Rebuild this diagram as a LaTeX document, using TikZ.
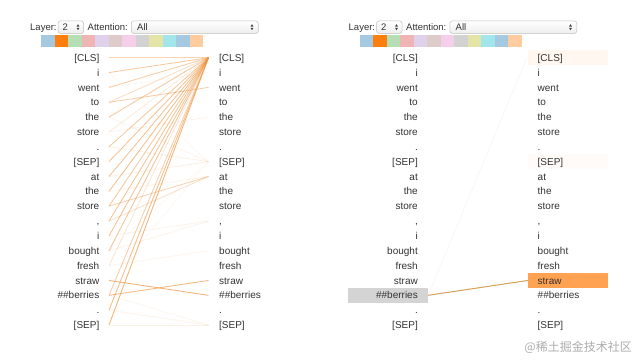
\documentclass[tikz,border=0pt]{standalone}
\usepackage{fontspec}
\setmainfont{Liberation Sans}
\newfontfamily\cjkfont{Noto Sans CJK SC}
\definecolor{hOrange}{HTML}{FF7F0E}
\definecolor{attLine}{HTML}{EE9440}
\definecolor{cBlue}{HTML}{1F77B4}
\definecolor{cGreen}{HTML}{2CA02C}
\definecolor{cRed}{HTML}{D62728}
\definecolor{cPurple}{HTML}{9467BD}
\definecolor{cBrown}{HTML}{8C564B}
\definecolor{cPink}{HTML}{E377C2}
\definecolor{cGray}{HTML}{7F7F7F}
\definecolor{cOlive}{HTML}{BCBD22}
\definecolor{cCyan}{HTML}{17BECF}
\definecolor{lineTan}{HTML}{D4A05A}
\definecolor{tokText}{HTML}{333333}
\begin{document}
\begin{tikzpicture}[x=1pt,y=-1pt,
  tok/.style={font=\fontsize{10}{12}\selectfont, text=tokText, inner sep=0pt, text height=7.2pt, text depth=0pt},
  ltok/.style={tok, anchor=east},
  rtok/.style={tok, anchor=west},
  ctrl/.style={font=\fontsize{9.5}{11}\selectfont, inner sep=0pt, anchor=west, text=tokText, text height=6.9pt, text depth=0pt},
  selbox/.style={draw=black!25, rounded corners=2.5pt, top color=white, bottom color=black!7, line width=0.5pt, minimum height=12.5pt, anchor=west, inner sep=0pt},
  hlbox/.style={inner sep=0pt, minimum width=80pt, minimum height=14.85pt},
  att/.style={attLine, line width=0.85pt},
  updown/.pic={
    \fill[black!75] (-1.4,-0.7) -- (1.4,-0.7) -- (0,-3) -- cycle;
    \fill[black!75] (-1.4,0.7) -- (1.4,0.7) -- (0,3) -- cycle;
  }]
\useasboundingbox (0,0) rectangle (640,360);
\fill[white] (0,0) rectangle (640,360);

% highlight boxes of the second panel (behind the text)
\node[hlbox, fill=black!17] (gbox) at (388,295.3) {};
\node[hlbox, fill=hOrange, fill opacity=0.72] (obox) at (568,280.45) {};
\node[hlbox, fill=hOrange, fill opacity=0.06] (cbox) at (568,57.7) {};
\node[hlbox, fill=hOrange, fill opacity=0.025] (sbox) at (568,161.65) {};

\foreach \px/\pn in {0/a,318.5/b} {
  \begin{scope}[xshift=\px pt]
    \node[ctrl] (layer\pn) at (30,27.2) {Layer:};
    \node[selbox, minimum width=25.5pt] (lsel\pn) at (57.8,27.2) {};
    \node[ctrl] (lval\pn) at (62.5,27.2) {2};
    \pic at (78,27.2) {updown};
    \node[ctrl] (att\pn) at (87.5,27.2) {Attention:};
    \node[selbox, minimum width=127pt] (asel\pn) at (131,27.2) {};
    \node[ctrl] (aval\pn) at (137,27.2) {All};
    \pic at (252,27.2) {updown};
    \foreach \k/\c in {0/cBlue!40,1/hOrange,2/cGreen!35,3/cRed!35,4/cPurple!30,5/cBrown!30,6/cPink!35,7/cGray!35,8/cOlive!40,9/cCyan!40,10/cBlue!40,11/hOrange!40} {
      \fill[\c] (41+13.5*\k,35) rectangle ++(13.5,12);
    }
    \foreach \i/\t in {0/[CLS],1/i,2/went,3/to,4/the,5/store,6/.,7/[SEP],8/at,9/the,10/store,11/{,},12/i,13/bought,14/fresh,15/straw,16/\#\#berries,17/.,18/[SEP]} {
      \pgfmathsetmacro\yy{57.7+14.85*\i}
      \node[ltok] (L\pn\i) at (99.5,\yy) {\t};
      \node[rtok] (R\pn\i) at (219,\yy) {\t};
      \coordinate (A\pn\i) at (109,\yy);
      \coordinate (B\pn\i) at (208.5,\yy);
    }
  \end{scope}
}

% attention lines, panel 1
\foreach \s/\d/\o in {5/4/.1,6/7/.12,8/7/.12,4/7/.1,12/11/.1,13/11/.1,14/13/.08,17/18/.1,18/18/.12,2/1/.08,9/8/.1,13/7/.06,15/7/.06,1/7/.06,16/18/.08,
  0/0/.4,1/0/.5,2/0/.45,3/0/.3,4/0/.5,5/0/.18,6/0/.5,7/0/.55,8/0/.55,9/0/.6,10/0/.5,11/0/.55,12/0/.55,13/0/.55,14/0/.22,16/0/.45,17/0/.6,18/0/.7,
  3/2/.45,10/8/.4,11/8/.28,15/16/.7,16/15/.65} {
  \draw[att, draw opacity=\o] (Aa\s) -- (Ba\d);
}

% attention lines, panel 2
\draw[lineTan, line width=0.5pt, draw opacity=0.12] (gbox.east) -- (Bb0);
\draw[lineTan, line width=1pt] (gbox.east) -- (obox.west);

\node[font=\cjkfont\fontsize{12}{14}\selectfont, text=black!32, anchor=east, inner sep=0pt] (wm) at (632,347.5) {@稀土掘金技术社区};
\end{tikzpicture}
\end{document}
